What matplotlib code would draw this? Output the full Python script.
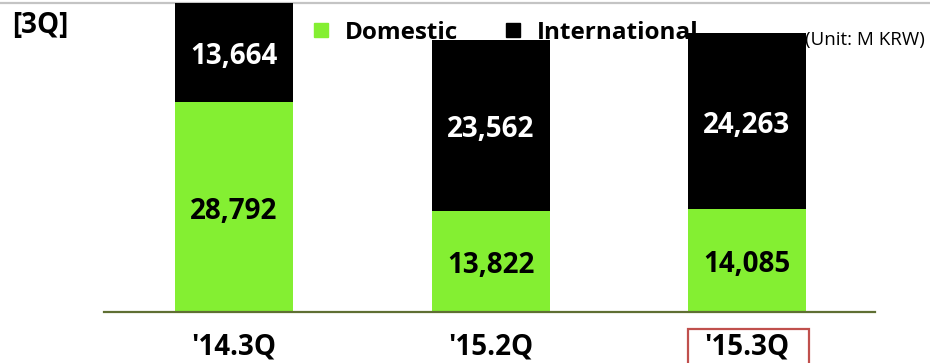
import matplotlib.pyplot as plt
from matplotlib.lines import Line2D
from matplotlib.patches import Rectangle

plt.rcParams['font.family'] = ['Open Sans', 'DejaVu Sans']

quarters = ["'14.3Q", "'15.2Q", "'15.3Q"]
domestic = [28792, 13822, 14085]
international = [13664, 23562, 24263]

green = '#84ef32'
olive = '#5f6f33'

fig = plt.figure(figsize=(9.3, 3.63), dpi=100)
W, H = 930, 363
ax = fig.add_axes([104 / W, (H - 312) / H, 771 / W, 312 / H])

x = list(range(len(quarters)))
b1 = ax.bar(x, domestic, width=0.46, color=green, zorder=2)
b2 = ax.bar(x, international, width=0.46, bottom=domestic, color='black', zorder=2)

t1 = ax.bar_label(b1, labels=[f'{v:,}' for v in domestic], label_type='center',
                  color='black', fontsize=20, fontweight='bold')
t2 = ax.bar_label(b2, labels=[f'{v:,}' for v in international], label_type='center',
                  color='white', fontsize=20, fontweight='bold')
for t in t1 + t2:
    t.xyann = (0, -3)  # labels sit a touch below the segment centre

ax.set_xlim(-0.507, 2.499)
ax.set_ylim(0, 42860)
ax.set_yticks([])
ax.set_xticks(x)
ax.set_xticklabels(quarters, fontsize=20, fontweight='bold')
ax.tick_params(axis='x', length=0, pad=15)
for s in ['top', 'left', 'right']:
    ax.spines[s].set_visible(False)
ax.spines['bottom'].set_color(olive)
ax.spines['bottom'].set_linewidth(1.6)
ax.patch.set_alpha(0)

# top gray rule
fig.add_artist(Line2D([0, 1], [1 - 2.5 / H, 1 - 2.5 / H], transform=fig.transFigure,
                      color='#c4c4c4', lw=1.6, zorder=0))

# red box around the current quarter
fig.add_artist(Rectangle((688 / W, -0.05), 121 / W, (H - 329) / H + 0.05,
                         transform=fig.transFigure, fill=False,
                         ec='#c0504d', lw=1.6))

fig.text(12 / W, 1 - 26 / H, '[3Q]', fontsize=20, fontweight='bold', va='center')
fig.text(805 / W, 1 - 40 / H, '(Unit: M KRW)', fontsize=13.5, va='center')

handles = [Line2D([], [], marker='s', ls='none', color=green, markersize=10),
           Line2D([], [], marker='s', ls='none', color='black', markersize=10)]
ax.legend(handles, ['Domestic', 'International'], ncol=2, frameon=False,
          loc='center left', bbox_to_anchor=(311 / W, 1 - 33 / H),
          bbox_transform=fig.transFigure, borderpad=0, borderaxespad=0,
          handlelength=0.8, handletextpad=0.6, columnspacing=1.85,
          prop={'size': 17.5, 'weight': 'bold'})

fig.savefig('out.png', dpi=100)
